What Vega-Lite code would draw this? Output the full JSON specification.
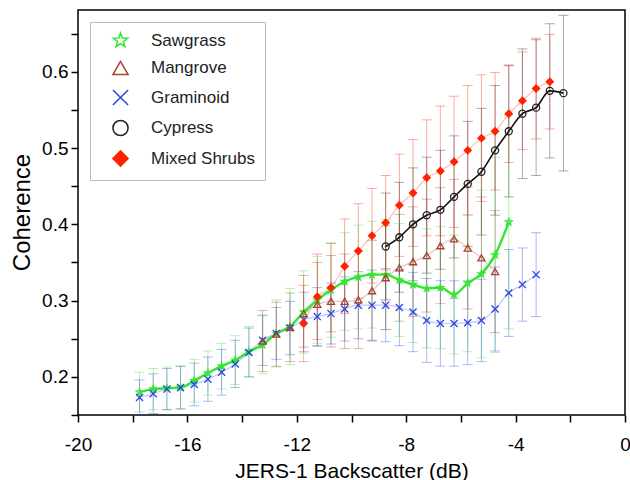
{
  "$schema": "https://vega.github.io/schema/vega-lite/v6.json",
  "width": 547,
  "height": 405,
  "autosize": "none",
  "padding": {"left": 78, "top": 10, "right": 5, "bottom": 65},
  "config": {
    "font": "Liberation Sans",
    "view": {"stroke": "black", "strokeWidth": 1.5},
    "axis": {"grid": false, "domain": false, "tickColor": "black", "tickWidth": 1.5, "labelColor": "black", "titleColor": "black", "titleFontWeight": "normal", "labelOverlap": false, "labelFlush": false}
  },
  "data": {"values": [
    {"s":"Sawgrass","x":-17.75,"y":0.180,"lo":0.154,"hi":0.206},
    {"s":"Sawgrass","x":-17.25,"y":0.184,"lo":0.157,"hi":0.211},
    {"s":"Sawgrass","x":-16.75,"y":0.185,"lo":0.157,"hi":0.213},
    {"s":"Sawgrass","x":-16.25,"y":0.186,"lo":0.158,"hi":0.214},
    {"s":"Sawgrass","x":-15.75,"y":0.195,"lo":0.167,"hi":0.223},
    {"s":"Sawgrass","x":-15.25,"y":0.205,"lo":0.176,"hi":0.234},
    {"s":"Sawgrass","x":-14.75,"y":0.214,"lo":0.184,"hi":0.244},
    {"s":"Sawgrass","x":-14.25,"y":0.222,"lo":0.190,"hi":0.254},
    {"s":"Sawgrass","x":-13.75,"y":0.233,"lo":0.200,"hi":0.266},
    {"s":"Sawgrass","x":-13.25,"y":0.242,"lo":0.204,"hi":0.280},
    {"s":"Sawgrass","x":-12.75,"y":0.257,"lo":0.213,"hi":0.301},
    {"s":"Sawgrass","x":-12.25,"y":0.266,"lo":0.216,"hi":0.316},
    {"s":"Sawgrass","x":-11.75,"y":0.285,"lo":0.231,"hi":0.339},
    {"s":"Sawgrass","x":-11.25,"y":0.301,"lo":0.244,"hi":0.358},
    {"s":"Sawgrass","x":-10.75,"y":0.314,"lo":0.252,"hi":0.376},
    {"s":"Sawgrass","x":-10.25,"y":0.325,"lo":0.261,"hi":0.389},
    {"s":"Sawgrass","x":-9.75,"y":0.331,"lo":0.263,"hi":0.399},
    {"s":"Sawgrass","x":-9.25,"y":0.334,"lo":0.264,"hi":0.404},
    {"s":"Sawgrass","x":-8.75,"y":0.334,"lo":0.262,"hi":0.406},
    {"s":"Sawgrass","x":-8.25,"y":0.327,"lo":0.253,"hi":0.401},
    {"s":"Sawgrass","x":-7.75,"y":0.321,"lo":0.245,"hi":0.397},
    {"s":"Sawgrass","x":-7.25,"y":0.316,"lo":0.238,"hi":0.394},
    {"s":"Sawgrass","x":-6.75,"y":0.317,"lo":0.237,"hi":0.397},
    {"s":"Sawgrass","x":-6.25,"y":0.308,"lo":0.230,"hi":0.386},
    {"s":"Sawgrass","x":-5.75,"y":0.323,"lo":0.233,"hi":0.413},
    {"s":"Sawgrass","x":-5.25,"y":0.335,"lo":0.225,"hi":0.445},
    {"s":"Sawgrass","x":-4.75,"y":0.360,"lo":0.232,"hi":0.488},
    {"s":"Sawgrass","x":-4.25,"y":0.403,"lo":0.263,"hi":0.543},
    {"s":"Graminoid","x":-17.75,"y":0.173,"lo":0.150,"hi":0.196},
    {"s":"Graminoid","x":-17.25,"y":0.178,"lo":0.152,"hi":0.204},
    {"s":"Graminoid","x":-16.75,"y":0.184,"lo":0.157,"hi":0.211},
    {"s":"Graminoid","x":-16.25,"y":0.186,"lo":0.158,"hi":0.214},
    {"s":"Graminoid","x":-15.75,"y":0.190,"lo":0.162,"hi":0.218},
    {"s":"Graminoid","x":-15.25,"y":0.197,"lo":0.168,"hi":0.226},
    {"s":"Graminoid","x":-14.75,"y":0.206,"lo":0.176,"hi":0.236},
    {"s":"Graminoid","x":-14.25,"y":0.217,"lo":0.186,"hi":0.248},
    {"s":"Graminoid","x":-13.75,"y":0.232,"lo":0.200,"hi":0.264},
    {"s":"Graminoid","x":-13.25,"y":0.248,"lo":0.215,"hi":0.281},
    {"s":"Graminoid","x":-12.75,"y":0.257,"lo":0.223,"hi":0.291},
    {"s":"Graminoid","x":-12.25,"y":0.264,"lo":0.229,"hi":0.299},
    {"s":"Graminoid","x":-11.75,"y":0.275,"lo":0.239,"hi":0.311},
    {"s":"Graminoid","x":-11.25,"y":0.279,"lo":0.241,"hi":0.317},
    {"s":"Graminoid","x":-10.75,"y":0.283,"lo":0.243,"hi":0.323},
    {"s":"Graminoid","x":-10.25,"y":0.289,"lo":0.247,"hi":0.331},
    {"s":"Graminoid","x":-9.75,"y":0.294,"lo":0.250,"hi":0.338},
    {"s":"Graminoid","x":-9.25,"y":0.294,"lo":0.248,"hi":0.340},
    {"s":"Graminoid","x":-8.75,"y":0.294,"lo":0.246,"hi":0.342},
    {"s":"Graminoid","x":-8.25,"y":0.291,"lo":0.241,"hi":0.341},
    {"s":"Graminoid","x":-7.75,"y":0.285,"lo":0.233,"hi":0.337},
    {"s":"Graminoid","x":-7.25,"y":0.274,"lo":0.219,"hi":0.329},
    {"s":"Graminoid","x":-6.75,"y":0.270,"lo":0.214,"hi":0.326},
    {"s":"Graminoid","x":-6.25,"y":0.270,"lo":0.214,"hi":0.326},
    {"s":"Graminoid","x":-5.75,"y":0.271,"lo":0.216,"hi":0.326},
    {"s":"Graminoid","x":-5.25,"y":0.274,"lo":0.220,"hi":0.328},
    {"s":"Graminoid","x":-4.75,"y":0.289,"lo":0.234,"hi":0.344},
    {"s":"Graminoid","x":-4.25,"y":0.310,"lo":0.253,"hi":0.367},
    {"s":"Graminoid","x":-3.75,"y":0.321,"lo":0.273,"hi":0.369},
    {"s":"Graminoid","x":-3.25,"y":0.334,"lo":0.279,"hi":0.389},
    {"s":"Mangrove","x":-13.25,"y":0.247,"lo":0.207,"hi":0.287},
    {"s":"Mangrove","x":-12.75,"y":0.256,"lo":0.214,"hi":0.298},
    {"s":"Mangrove","x":-12.25,"y":0.265,"lo":0.220,"hi":0.310},
    {"s":"Mangrove","x":-11.75,"y":0.283,"lo":0.233,"hi":0.333},
    {"s":"Mangrove","x":-11.25,"y":0.295,"lo":0.240,"hi":0.350},
    {"s":"Mangrove","x":-10.75,"y":0.299,"lo":0.239,"hi":0.359},
    {"s":"Mangrove","x":-10.25,"y":0.299,"lo":0.237,"hi":0.361},
    {"s":"Mangrove","x":-9.75,"y":0.301,"lo":0.237,"hi":0.365},
    {"s":"Mangrove","x":-9.25,"y":0.313,"lo":0.247,"hi":0.379},
    {"s":"Mangrove","x":-8.75,"y":0.330,"lo":0.262,"hi":0.398},
    {"s":"Mangrove","x":-8.25,"y":0.343,"lo":0.273,"hi":0.413},
    {"s":"Mangrove","x":-7.75,"y":0.351,"lo":0.279,"hi":0.423},
    {"s":"Mangrove","x":-7.25,"y":0.359,"lo":0.285,"hi":0.433},
    {"s":"Mangrove","x":-6.75,"y":0.372,"lo":0.296,"hi":0.448},
    {"s":"Mangrove","x":-6.25,"y":0.381,"lo":0.303,"hi":0.459},
    {"s":"Mangrove","x":-5.75,"y":0.369,"lo":0.289,"hi":0.449},
    {"s":"Mangrove","x":-5.25,"y":0.356,"lo":0.276,"hi":0.436},
    {"s":"Mangrove","x":-4.75,"y":0.338,"lo":0.258,"hi":0.418},
    {"s":"Mixed Shrubs","x":-11.75,"y":0.270,"lo":0.220,"hi":0.320},
    {"s":"Mixed Shrubs","x":-11.25,"y":0.305,"lo":0.249,"hi":0.361},
    {"s":"Mixed Shrubs","x":-10.75,"y":0.317,"lo":0.259,"hi":0.375},
    {"s":"Mixed Shrubs","x":-10.25,"y":0.345,"lo":0.283,"hi":0.407},
    {"s":"Mixed Shrubs","x":-9.75,"y":0.365,"lo":0.303,"hi":0.427},
    {"s":"Mixed Shrubs","x":-9.25,"y":0.385,"lo":0.323,"hi":0.447},
    {"s":"Mixed Shrubs","x":-8.75,"y":0.402,"lo":0.340,"hi":0.464},
    {"s":"Mixed Shrubs","x":-8.25,"y":0.425,"lo":0.358,"hi":0.492},
    {"s":"Mixed Shrubs","x":-7.75,"y":0.441,"lo":0.371,"hi":0.511},
    {"s":"Mixed Shrubs","x":-7.25,"y":0.461,"lo":0.385,"hi":0.537},
    {"s":"Mixed Shrubs","x":-6.75,"y":0.470,"lo":0.385,"hi":0.555},
    {"s":"Mixed Shrubs","x":-6.25,"y":0.482,"lo":0.396,"hi":0.568},
    {"s":"Mixed Shrubs","x":-5.75,"y":0.497,"lo":0.412,"hi":0.582},
    {"s":"Mixed Shrubs","x":-5.25,"y":0.513,"lo":0.430,"hi":0.596},
    {"s":"Mixed Shrubs","x":-4.75,"y":0.522,"lo":0.445,"hi":0.599},
    {"s":"Mixed Shrubs","x":-4.25,"y":0.545,"lo":0.481,"hi":0.609},
    {"s":"Mixed Shrubs","x":-3.75,"y":0.562,"lo":0.498,"hi":0.626},
    {"s":"Mixed Shrubs","x":-3.25,"y":0.578,"lo":0.512,"hi":0.644},
    {"s":"Mixed Shrubs","x":-2.75,"y":0.587,"lo":0.525,"hi":0.649},
    {"s":"Cypress","x":-8.75,"y":0.371,"lo":0.301,"hi":0.441},
    {"s":"Cypress","x":-8.25,"y":0.383,"lo":0.311,"hi":0.455},
    {"s":"Cypress","x":-7.75,"y":0.400,"lo":0.326,"hi":0.474},
    {"s":"Cypress","x":-7.25,"y":0.412,"lo":0.336,"hi":0.488},
    {"s":"Cypress","x":-6.75,"y":0.419,"lo":0.341,"hi":0.497},
    {"s":"Cypress","x":-6.25,"y":0.436,"lo":0.356,"hi":0.516},
    {"s":"Cypress","x":-5.75,"y":0.453,"lo":0.371,"hi":0.535},
    {"s":"Cypress","x":-5.25,"y":0.469,"lo":0.386,"hi":0.552},
    {"s":"Cypress","x":-4.75,"y":0.497,"lo":0.412,"hi":0.582},
    {"s":"Cypress","x":-4.25,"y":0.522,"lo":0.436,"hi":0.608},
    {"s":"Cypress","x":-3.75,"y":0.545,"lo":0.460,"hi":0.630},
    {"s":"Cypress","x":-3.25,"y":0.553,"lo":0.464,"hi":0.642},
    {"s":"Cypress","x":-2.75,"y":0.575,"lo":0.487,"hi":0.663},
    {"s":"Cypress","x":-2.25,"y":0.572,"lo":0.470,"hi":0.674}
  ]},
  "layer": [
    {
      "mark": {"type": "rule", "opacity": 0.38, "strokeWidth": 1},
      "encoding": {
        "x": {"field": "x", "type": "quantitative", "scale": {"domain": [-20, 0], "nice": false, "zero": false}, "axis": {"orient": "bottom", "values": [-20,-18,-16,-14,-12,-10,-8,-6,-4,-2,0], "labelExpr": "datum.value % 4 === 0 ? '' + datum.value : ''", "tickSize": 7, "labelFontSize": 19, "labelPadding": 13, "title": "JERS-1 Backscatter (dB)", "titleFontSize": 21, "titleY": 62, "titleBaseline": "alphabetic"}},
        "y": {"field": "lo", "type": "quantitative", "scale": {"domain": [0.15, 0.681], "nice": false, "zero": false}, "axis": {"orient": "left", "values": [0.15,0.2,0.25,0.3,0.35,0.4,0.45,0.5,0.55,0.6,0.65], "labelExpr": "abs(datum.value * 10 - round(datum.value * 10)) < 0.001 ? format(datum.value, '.1f') : ''", "tickSize": 7, "labelFontSize": 19, "labelPadding": 3, "title": "Coherence", "titleFontSize": 24, "titleX": -56, "titleY": 202, "titleAngle": -90, "titleBaseline": "middle", "titleAlign": "center"}},
        "y2": {"field": "hi"},
        "color": {"field": "s", "type": "nominal", "legend": null, "scale": {"domain": ["Mixed Shrubs", "Cypress", "Graminoid", "Mangrove", "Sawgrass"], "range": ["#ff2200", "#222222", "#2a44e6", "#a8402e", "#33e633"]}}
      }
    },
    {
      "mark": {"type": "tick", "orient": "horizontal", "size": 10, "thickness": 1, "opacity": 0.38},
      "encoding": {
        "x": {"field": "x", "type": "quantitative"},
        "y": {"field": "lo", "type": "quantitative"},
        "color": {"field": "s", "type": "nominal", "legend": null}
      }
    },
    {
      "mark": {"type": "tick", "orient": "horizontal", "size": 10, "thickness": 1, "opacity": 0.38},
      "encoding": {
        "x": {"field": "x", "type": "quantitative"},
        "y": {"field": "hi", "type": "quantitative"},
        "color": {"field": "s", "type": "nominal", "legend": null}
      }
    },
    {
      "transform": [{"filter": "datum.s === 'Mangrove' || datum.s === 'Graminoid' || datum.s === 'Mixed Shrubs'"}],
      "mark": {"type": "line", "strokeWidth": 1.2, "opacity": 0.3, "interpolate": "monotone"},
      "encoding": {
        "x": {"field": "x", "type": "quantitative"},
        "y": {"field": "y", "type": "quantitative"},
        "color": {"field": "s", "type": "nominal", "legend": null}
      }
    },
    {
      "transform": [{"filter": "datum.s === 'Sawgrass'"}],
      "mark": {"type": "line", "strokeWidth": 2.4, "color": "#33e633", "interpolate": "monotone"},
      "encoding": {
        "x": {"field": "x", "type": "quantitative"},
        "y": {"field": "y", "type": "quantitative"}
      }
    },
    {
      "transform": [{"filter": "datum.s === 'Cypress'"}],
      "mark": {"type": "line", "strokeWidth": 1.6, "color": "#111111", "interpolate": "monotone"},
      "encoding": {
        "x": {"field": "x", "type": "quantitative"},
        "y": {"field": "y", "type": "quantitative"}
      }
    },
    {
      "mark": {"type": "point", "strokeWidth": 1.3, "opacity": 1, "size": 50},
      "encoding": {
        "x": {"field": "x", "type": "quantitative"},
        "y": {"field": "y", "type": "quantitative"},
        "shape": {"field": "s", "type": "nominal", "scale": {"domain": ["Sawgrass", "Mangrove", "Graminoid", "Cypress", "Mixed Shrubs"], "range": ["M0,-1L0.235,-0.324L0.951,-0.309L0.38,0.124L0.588,0.809L0,0.4L-0.588,0.809L-0.38,0.124L-0.951,-0.309L-0.235,-0.324Z", "triangle-up", "M-1,-1L1,1M-1,1L1,-1", "circle", "diamond"]},
          "legend": {"orient": "none", "legendX": 12, "legendY": 12, "title": null, "padding": 10, "symbolOffset": 12, "labelOffset": 22, "rowPadding": 7.5, "symbolSize": 230, "symbolStrokeWidth": 1.5, "labelFontSize": 17, "labelColor": "#222222", "strokeColor": "#bbbbbb", "fillColor": "white"}},
        "stroke": {"field": "s", "type": "nominal", "scale": {"domain": ["Sawgrass", "Mangrove", "Graminoid", "Cypress", "Mixed Shrubs"], "range": ["#33e633", "#a8402e", "#2a44e6", "#222222", "#ff2200"]}, "legend": {"orient": "none", "legendX": 12, "legendY": 12, "title": null}},
        "fill": {"field": "s", "type": "nominal", "scale": {"domain": ["Sawgrass", "Mangrove", "Graminoid", "Cypress", "Mixed Shrubs"], "range": ["transparent", "transparent", "transparent", "transparent", "#ff2200"]}, "legend": {"orient": "none", "legendX": 12, "legendY": 12, "title": null}}
      }
    }
  ]
}
